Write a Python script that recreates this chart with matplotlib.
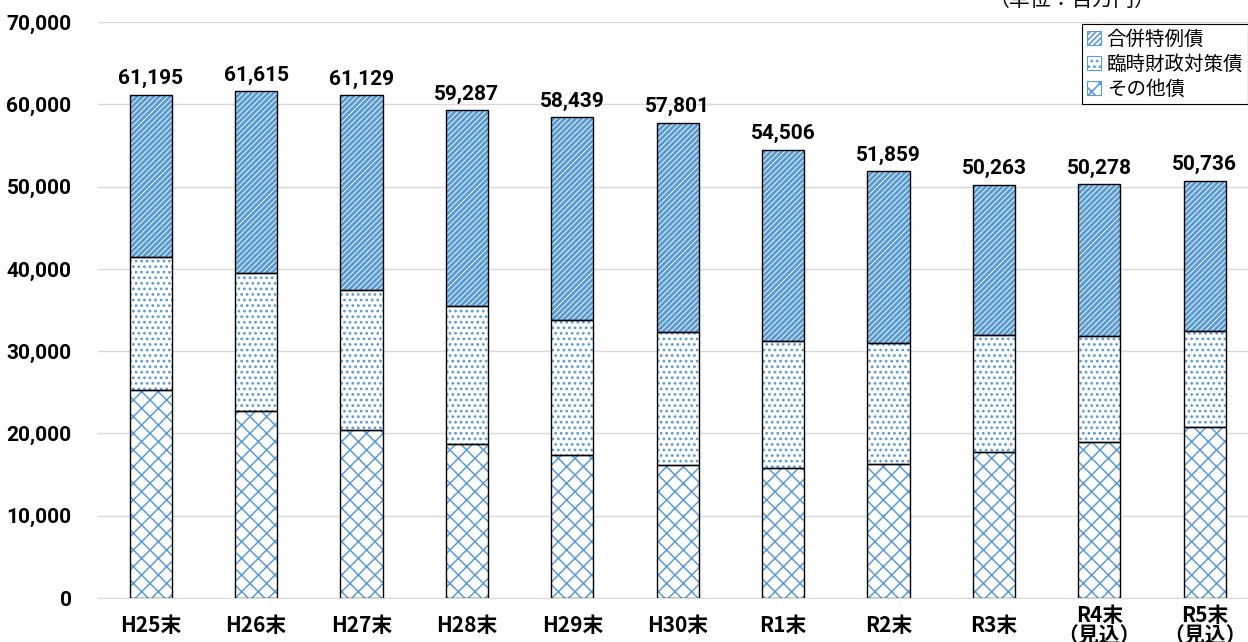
import matplotlib.pyplot as plt
from matplotlib.patches import Patch
import numpy as np

plt.rcParams['font.family'] = ['Roboto', 'Noto Sans CJK JP', 'DejaVu Sans']
plt.rcParams['hatch.linewidth'] = 1.2

# 単位：百万円
years = ['H25末', 'H26末', 'H27末', 'H28末', 'H29末', 'H30末',
         'R1末', 'R2末', 'R3末', 'R4末\n（見込）', 'R5末\n（見込）']
other = [25300, 22700, 20400, 18700, 17380, 16160, 15800, 16280, 17740, 18950, 20780]
rinji = [16130, 16790, 17020, 16780, 16400, 16160, 15430, 14700, 14220, 12880, 11660]
gappei = [19765, 22125, 23709, 23807, 24659, 25481, 23276, 20879, 18303, 18448, 18296]
totals = [61195, 61615, 61129, 59287, 58439, 57801, 54506, 51859, 50263, 50278, 50736]

blue = '#5b9bd5'
x = np.arange(len(years))
w = 0.4

fig = plt.figure(figsize=(12.48, 6.42), dpi=100)
ax = fig.add_axes([0.0785, 0.0685, 0.9215, 0.897])

series = [
    (other, 'その他債', 'xx', 1.1),
    (rinji, '臨時財政対策債', '...', 1.2),
    (gappei, '合併特例債', '//////', 2.2),
]
bottom = np.zeros(len(years))
handles = []
for vals, name, hatch, hlw in series:
    bars = ax.bar(x, vals, w, bottom=bottom, color='white', edgecolor=blue,
                  hatch=hatch, linewidth=0, zorder=2)
    ax.bar(x, vals, w, bottom=bottom, color='none', edgecolor='black',
           linewidth=1.0, zorder=3)
    h = Patch(facecolor='white', edgecolor=blue, hatch=hatch,
              linewidth=0.8, label=name)
    for p in list(bars) + [h]:
        if hasattr(p, 'set_hatch_linewidth'):
            p.set_hatch_linewidth(hlw)
    handles.append(h)
    bottom += np.array(vals)

for xi, top, t in zip(x, bottom, totals):
    ax.text(xi, top + 800, f'{t:,}', ha='center', va='bottom',
            fontsize=15, fontweight='bold')

ax.set_xlim(-0.5, 10.41)
ax.set_ylim(0, 70000)
ax.set_yticks(np.arange(0, 70001, 10000))
ax.set_yticklabels([f'{v:,}' for v in range(0, 70001, 10000)],
                   fontsize=15, fontweight='bold')
ax.set_xticks(x)
ax.set_xticklabels(years, fontsize=15, fontweight='bold', va='center',
                   linespacing=1.0,
                   family=['Noto Sans CJK JP', 'DejaVu Sans'])
ax.tick_params(axis='both', length=0)
ax.tick_params(axis='y', pad=19)
ax.tick_params(axis='x', pad=20)
ax.yaxis.grid(True, color='#d9d9d9', linewidth=1)
ax.set_axisbelow(True)
for s in ['top', 'right', 'left']:
    ax.spines[s].set_visible(False)
ax.spines['bottom'].set_color('#d9d9d9')

leg = ax.legend(handles=handles[::-1], loc='upper right',
                bbox_to_anchor=(1.0, 0.997),
                prop={'family': ['Noto Sans CJK JP'], 'size': 14},
                frameon=True, fancybox=False, edgecolor='black', framealpha=1,
                handlelength=0.7, handleheight=0.7, handletextpad=0.3,
                labelspacing=0.2, borderpad=0.25, borderaxespad=0)
leg.get_frame().set_linewidth(0.8)

fig.text(0.859, 1.0, '（単位：百万円）', ha='center', va='center', fontsize=15,
         family=['Noto Sans CJK JP', 'DejaVu Sans'])

fig.savefig('out.png', dpi=100)
